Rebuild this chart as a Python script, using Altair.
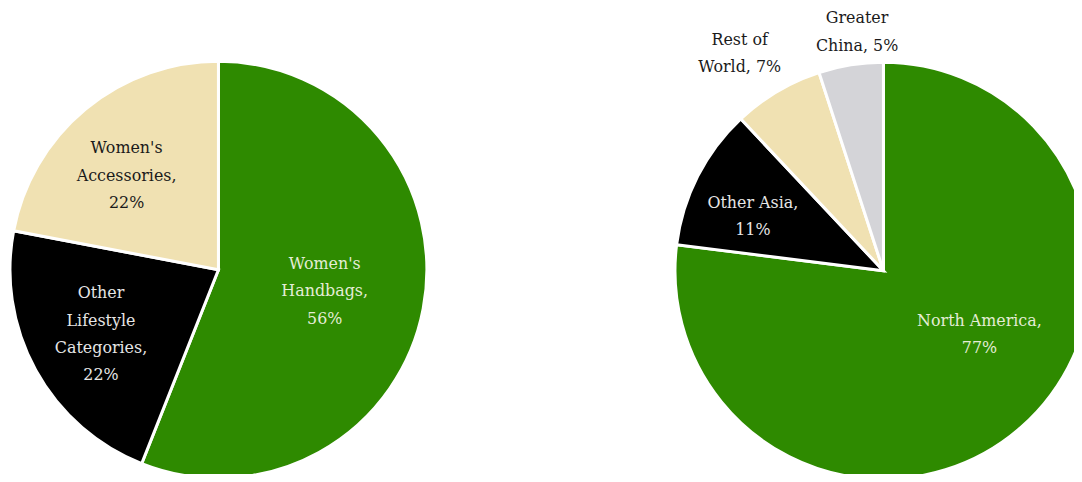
import altair as alt
import pandas as pd

# ---- data ----
left_cats = ["Women's Handbags", "Other Lifestyle Categories", "Women's Accessories"]
left_vals = [56, 22, 22]
left_labels = ["Women's\nHandbags,\n56%", "Other\nLifestyle\nCategories,\n22%", "Women's\nAccessories,\n22%"]

right_cats = ["North America", "Other Asia", "Rest of World", "Greater China"]
right_vals = [77, 11, 7, 5]
right_labels = ["North America,\n77%", "Other Asia,\n11%", "Rest of\nWorld, 7%", "Greater\nChina, 5%"]

# ---- style ----
GREEN = "#2E8A00"
BLACK = "#000000"
TAN = "#F0E1B2"
GREY = "#D4D4D8"
left_colors = [GREEN, BLACK, TAN]
right_colors = [GREEN, BLACK, TAN, GREY]

FONT = "DejaVu Serif"
FS = 16
LH = 27.5
R = 210
W, H = 1074, 466
LCX, LCY = 212, 262
RCX, RCY = 882, 263

left_df = pd.DataFrame({"cat": left_cats, "value": left_vals, "label": left_labels,
                        "idx": list(range(len(left_cats)))})
right_df = pd.DataFrame({"cat": right_cats, "value": right_vals, "label": right_labels,
                         "idx": list(range(len(right_cats)))})

color_scale = alt.Scale(domain=left_cats + right_cats, range=left_colors + right_colors)


def pie(df, cx, cy):
    return alt.Chart(df).mark_arc(radius=R, stroke="white", strokeWidth=3).encode(
        theta=alt.Theta("value:Q", stack=True),
        order=alt.Order("idx:Q"),
        color=alt.Color("cat:N", scale=color_scale, legend=None),
        x=alt.value(cx),
        y=alt.value(cy),
    )


def label(df, cat, lines, cx, cy, r, dx, dy, color):
    # shift so that the multi-line block is centred on the anchor
    dy = dy - (lines - 1) * LH / 2
    return alt.Chart(df).mark_text(
        radius=r, dx=dx, dy=dy, lineBreak="\n", font=FONT, fontSize=FS,
        lineHeight=LH, color=color, align="center", baseline="middle",
    ).encode(
        theta=alt.Theta("value:Q", stack=True),
        order=alt.Order("idx:Q"),
        text=alt.condition(alt.datum.cat == cat, "label:N", alt.value("")),
        x=alt.value(cx),
        y=alt.value(cy),
    )


layers = [
    pie(left_df, LCX, LCY),
    pie(right_df, RCX, RCY),
    label(left_df, left_cats[0], 3, LCX, LCY, 109, 0, 1.5, "#E4EDD6"),
    label(left_df, left_cats[1], 4, LCX, LCY, 135, 0, 0, "#E6E6E6"),
    label(left_df, left_cats[2], 3, LCX, LCY, 131, -9, 6, "#1A1A1A"),
    label(right_df, right_cats[0], 2, RCX, RCY, 116, 20, -23, "#E4EDD6"),
    label(right_df, right_cats[1], 2, RCX, RCY, 142, -5, 10, "#E6E6E6"),
    label(right_df, right_cats[2], 2, RCX, RCY, 261, -12, 6, "#1A1A1A"),
    label(right_df, right_cats[3], 2, RCX, RCY, 240, 11, -3.5, "#1A1A1A"),
]

chart = alt.layer(*layers).properties(
    width=W, height=H, padding=0, autosize=alt.AutoSizeParams(type="none")
).configure_view(stroke=None)

chart.save("out.html", embed_options={"renderer": "svg", "actions": False})
